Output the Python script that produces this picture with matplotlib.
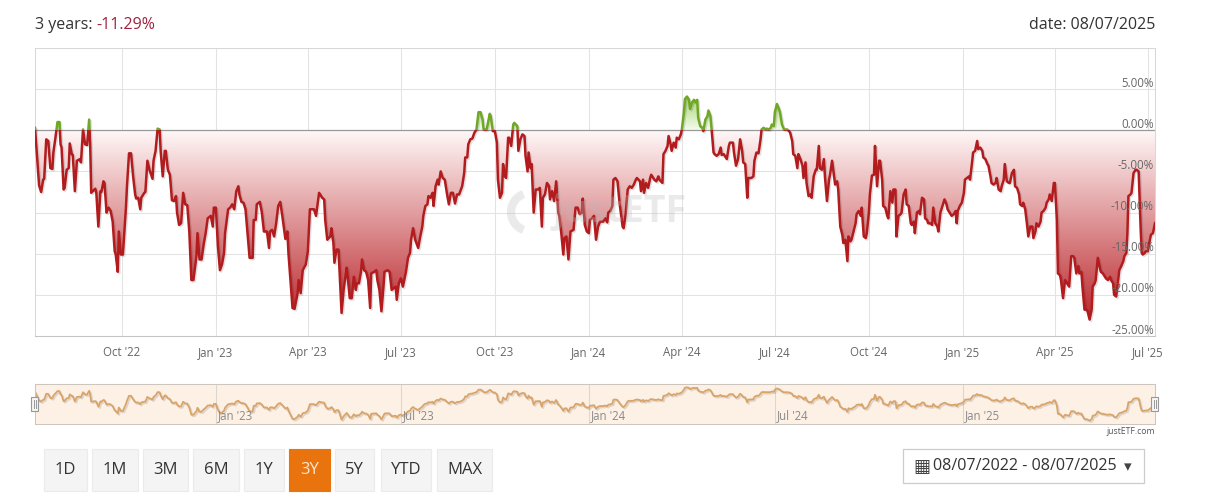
# justETF style drawdown chart (3 years)
import matplotlib as mpl
mpl.use('Agg')
import matplotlib.pyplot as plt
import matplotlib.dates as mdates
import matplotlib.patches as mpatches
import matplotlib.patheffects as pe
import numpy as np
import pandas as pd

start = '2022-07-08'
end = '2025-07-08'

# days after 08/07/2022, drawdown in %
days = [0, 4, 6, 8, 9, 11, 13, 15, 17, 18, 20, 22, 24, 25, 26, 28, 29, 31, 33, 34, 36, 37, 39, 41, 44, 45, 47, 49, 51, 53,
        54, 55, 59, 60, 62, 64, 65, 67, 68, 70, 72, 74, 76, 78, 79, 81, 82, 84, 86, 89, 90, 92, 94, 96, 98, 99, 101, 103, 104, 107,
        108, 110, 112, 115, 116, 118, 120, 122, 123, 125, 127, 128, 130, 132, 134, 136, 138, 139, 141, 143, 145, 147, 149, 151, 153, 155, 158, 159, 161, 163,
        165, 167, 169, 172, 174, 175, 177, 179, 181, 183, 185, 186, 189, 191, 193, 195, 197, 199, 200, 202, 204, 206, 208, 210, 213, 214, 216, 217, 220, 222,
        224, 227, 229, 230, 232, 234, 236, 238, 240, 242, 244, 245, 247, 248, 250, 252, 254, 257, 258, 260, 262, 265, 267, 269, 273, 275, 278,
        281, 283, 284, 286, 289, 290, 292, 293, 295, 297, 299, 300, 302, 305, 306, 308, 310, 312, 314, 315, 317, 319, 320, 322, 324, 326, 328, 329, 332, 334,
        335, 337, 339, 341, 342, 345, 347, 349, 351, 353, 354, 356, 358, 360, 363, 365, 367, 368, 370, 372, 375, 377, 379, 380, 382, 384, 385, 387, 389, 390,
        392, 394, 395, 397, 399, 401, 403, 405, 407, 409, 411, 413, 415, 418, 420, 421, 423, 424, 426, 428, 430, 432, 434, 436, 438, 439, 442, 445, 446, 448,
        450, 452, 453, 455, 457, 458, 460, 461, 463, 464, 466, 468, 469, 472, 473, 475, 477, 479, 480, 482, 483, 485, 486, 488, 490, 492, 494, 496, 497, 499,
        501, 503, 504, 506, 508, 510, 512, 513, 515, 517, 518, 520, 522, 524, 527, 529, 531, 533, 535, 536, 538, 540, 542, 543, 545, 547, 549, 551, 553,
        556, 558, 560, 561, 563, 565, 566, 568, 570, 572, 575, 576, 578, 580, 582, 584, 586, 588, 589, 592, 593, 595, 596, 598, 600, 602, 603, 605, 606, 608,
        610, 611, 614, 615, 617, 619, 620, 622, 623, 625, 627, 628, 630, 632, 633, 635, 636, 638, 640, 641, 643, 645, 646, 648, 649, 651, 653, 654, 656, 658,
        659, 661, 662, 664, 665, 667, 669, 671, 672, 674, 676, 677, 679, 680, 683, 684, 686, 688, 690, 692, 693, 695, 697, 698, 701, 703, 704, 706, 708, 710,
        711, 713, 715, 716, 718, 720, 721, 723, 724, 726, 728, 729, 731, 733, 736, 738, 739, 741, 742, 744, 746, 747, 749, 751, 752, 754, 755, 757, 759, 760,
        762, 764, 765, 767, 768, 770, 772, 773, 775, 777, 778, 780, 782, 783, 785, 786, 788, 790, 791, 793, 795, 796, 798, 799, 801, 803, 804, 806, 808, 809,
        811, 813, 814, 816, 817, 819, 821, 822, 824, 826, 827,
        829, 830, 832, 834, 835, 837, 839, 840, 842, 843, 845, 847, 848, 850, 852, 853, 855, 857, 858, 860, 861, 863, 865, 866, 868, 870, 871, 873, 874, 876,
        878, 879, 881, 883, 884, 886, 888, 890, 892, 893, 896, 897, 899, 901, 902, 903, 905, 907, 909, 910, 912, 914, 915, 917, 918, 920, 922, 923, 925, 927,
        928, 930, 932, 933, 935, 936, 938, 940, 941, 943, 945, 946, 948, 949, 951, 953, 954, 956, 958, 959, 961, 963, 964, 966, 967, 969, 971, 972, 974, 976,
        977, 979, 980, 982, 984, 985, 987, 989, 990, 992, 993, 995, 997, 998, 1000, 1001, 1003, 1004, 1006, 1008, 1009, 1011, 1012, 1014, 1016, 1017, 1019, 1021, 1022, 1024,
        1025, 1027, 1029, 1030, 1032, 1034, 1035, 1037, 1038, 1040, 1042, 1043, 1045, 1047, 1048, 1050, 1052, 1053, 1055, 1056, 1058, 1060, 1061, 1063, 1065, 1066, 1068, 1069, 1070, 1072,
        1073, 1075, 1077, 1078, 1080, 1082, 1083, 1084, 1086, 1087, 1089, 1091, 1092, 1094, 1096]
drawdown = [0.3, -6.7, -7.5, -6.0, -5.9, -1.1, -1.3, -4.6, -4.7, -2.7, -0.9, 1.0, 1.0, -1.7, -2.1, -7.2, -7.0, -4.8, -4.6, -1.6, -2.9, -3.0, -7.4, -3.7, -3.5, -3.9, 0.1, -1.7, -1.8, 1.3,
            -1.7, -7.6, -7.1, -7.6, -11.7, -7.4, -7.5, -6.2, -6.4, -10.0, -9.4, -9.8, -11.1, -14.7, -15.1, -17.2, -12.3, -15.1, -15.1, -9.4, -6.8, -2.8, -2.8, -5.6, -7.8, -8.3, -8.2, -9.6, -8.2, -7.6,
            -7.5, -3.7, -4.8, -5.9, -3.7, -2.5, 0.2, 0.1, -2.6, -5.6, -2.5, -2.5, -4.8, -5.4, -8.5, -8.6, -8.0, -10.0, -11.5, -11.3, -7.6, -9.0, -9.1, -12.3, -18.2, -18.2, -15.3, -12.5, -15.7, -15.7,
            -13.9, -12.5, -10.7, -10.4, -11.7, -9.4, -9.4, -14.1, -17.0, -16.3, -14.9, -12.5, -9.6, -9.4, -9.0, -9.6, -7.4, -6.8, -7.8, -8.7, -8.8, -9.6, -12.5, -15.5, -15.5, -10.9, -10.9, -9.0, -8.7, -10.0,
            -12.3, -12.3, -14.3, -12.3, -12.1, -12.9, -11.3, -9.2, -8.7, -10.4, -12.3, -13.2, -12.3, -14.9, -18.2, -21.6, -21.7, -19.8, -18.2, -19.8, -17.0, -16.3, -14.7, -9.6, -9.6, -10.4, -7.6,
            -8.2, -8.4, -10.9, -13.3, -12.9, -11.9, -13.7, -16.1, -14.5, -14.5, -19.8, -22.2, -19.4, -16.7, -17.8, -20.4, -20.4, -17.8, -19.4, -18.6, -18.6, -17.2, -15.7, -17.0, -17.2, -18.2, -21.6, -17.4, -17.2, -17.0,
            -18.2, -19.4, -22.0, -19.0, -17.2, -17.0, -17.2, -19.4, -19.2, -19.0, -20.6, -18.6, -18.0, -19.0, -17.2, -15.5, -14.9, -13.3, -11.9, -13.3, -14.3, -12.9, -11.7, -10.4, -9.2, -9.0, -8.0, -8.2, -7.6, -9.2,
            -6.8, -6.0, -6.6, -5.0, -5.8, -6.0, -7.6, -9.0, -7.6, -7.6, -8.9, -7.8, -7.8, -6.8, -5.2, -3.3, -3.3, -1.7, -1.1, -1.0, -0.3, 0.1, 2.2, 2.2, 1.3, 0.1, 0.1, 2.0, 1.7, -0.1,
            -0.1, -1.5, -6.0, -8.2, -7.6, -4.1, -5.6, -5.8, -0.9, -0.9, -1.9, 0.7, 0.9, 0.5, -2.5, -1.1, -0.5, -0.7, -3.1, -5.0, -2.7, -4.6, -4.1, -10.0, -7.2, -7.2, -7.0, -11.7, -8.2, -7.8,
            -6.4, -6.8, -8.4, -7.4, -8.6, -6.2, -10.0, -10.4, -12.5, -15.1, -13.1, -12.9, -15.7, -12.3, -12.1, -9.4, -9.4, -10.2, -10.0, -8.3, -11.5, -12.3, -12.5, -10.9, -10.7, -10.4, -13.3, -11.7, -11.1,
            -11.1, -10.7, -11.2, -10.0, -9.8, -9.2, -6.0, -5.8, -6.2, -8.8, -11.7, -11.9, -10.2, -7.2, -6.8, -7.0, -6.6, -6.0, -5.8, -6.2, -7.4, -6.0, -7.6, -6.4, -7.0, -5.8, -5.4, -5.8, -6.0, -6.2,
            -5.6, -6.0, -6.4, -2.9, -2.5, -1.9, -0.7, -1.7, -2.5, -1.5, -2.1, -0.9, -1.1, -0.5, 0.1, 2.2, 3.8, 4.1, 3.7, 2.6, 3.4, 3.7, 3.4, 3.7, 1.5, 0.5, 0.3, -0.1, 1.3, 1.7,
            2.4, 1.7, 0.3, -2.7, -2.9, -3.1, -2.9, -2.1, -3.0, -2.9, -3.3, -3.5, -1.9, -1.5, -1.5, -2.7, -4.3, -3.5, -1.1, -2.5, -3.9, -4.1, -8.2, -5.8, -5.8, -5.6, -3.7, -2.7, -2.8, -1.1,
            0.1, 0.3, 0.1, 0.2, 0.1, 0.3, 0.7, 0.5, 2.2, 3.2, 2.6, 2.2, 0.7, 0.1, 0.1, -0.1, -0.3, -1.3, -2.9, -3.1, -4.6, -2.9, -3.5, -4.3, -5.8, -3.9, -6.4, -8.0, -7.8, -8.2,
            -5.6, -4.8, -4.8, -1.9, -4.6, -4.8, -3.5, -5.6, -8.6, -6.0, -5.4, -3.7, -5.6, -6.6, -6.2, -7.2, -11.7, -12.7, -13.7, -13.3, -15.9, -12.9, -13.5, -13.3, -12.3, -11.3, -10.2, -9.8, -10.4, -9.4,
            -12.9, -13.1, -12.5, -10.0, -7.8, -5.5, -5.4, -1.9, -6.8, -3.7, -3.7,
            -6.0, -9.2, -9.4, -10.4, -10.7, -7.4, -8.8, -7.2, -7.2, -12.9, -10.4, -10.2, -10.0, -7.8, -7.2, -9.0, -9.2, -11.3, -11.5, -11.1, -12.5, -10.0, -9.8, -10.2, -8.2, -8.4, -10.7, -10.9, -11.3, -11.3,
            -11.5, -9.4, -11.3, -11.7, -12.3, -10.0, -9.2, -8.4, -9.0, -9.6, -10.2, -10.4, -10.2, -9.8, -11.3, -9.8, -9.2, -8.8, -7.6, -6.0, -5.8, -5.6, -6.0, -3.9, -2.7, -2.5, -1.3, -2.3, -2.1, -2.5,
            -3.3, -3.5, -4.1, -4.3, -5.6, -6.4, -6.6, -6.4, -5.8, -7.2, -7.4, -6.8, -6.0, -4.1, -6.2, -6.4, -6.4, -5.2, -4.8, -6.8, -7.0, -7.8, -9.0, -9.2, -8.8, -9.6, -11.7, -12.9, -11.7, -11.7,
            -13.1, -12.3, -11.3, -11.7, -11.1, -10.0, -9.8, -9.4, -8.8, -8.4, -7.8, -8.6, -6.4, -6.4, -10.9, -17.4, -17.6, -18.2, -20.4, -18.2, -18.4, -18.8, -19.0, -15.3, -15.3, -15.5, -17.4, -16.5, -17.4, -17.2,
            -19.0, -21.8, -21.8, -22.0, -23.0, -21.8, -19.0, -18.6, -18.2, -15.5, -16.7, -17.2, -17.4, -17.8, -18.0, -18.2, -17.8, -18.2, -18.6, -20.0, -20.2, -18.2, -17.0, -16.5, -15.9, -15.3, -14.9, -12.5, -8.0, -7.8,
            -7.6, -5.2, -4.8, -4.8, -5.0, -12.1, -14.9, -15.1, -14.9, -14.7, -14.7, -13.3, -12.7, -12.5, -11.29]

title_left = '3 years: '
title_value = '-11.29%'
title_right = 'date: 08/07/2025'
y_ticks = [5, 0, -5, -10, -15, -20, -25]
x_ticks = ['2022-10-01', '2023-01-01', '2023-04-01', '2023-07-01', '2023-10-01', '2024-01-01',
           '2024-04-01', '2024-07-01', '2024-10-01', '2025-01-01', '2025-04-01', '2025-07-01']
x_labels = ["Oct '22", "Jan '23", "Apr '23", "Jul '23", "Oct '23", "Jan '24",
            "Apr '24", "Jul '24", "Oct '24", "Jan '25", "Apr '25", "Jul '25"]
nav_ticks = ['2023-01-01', '2023-07-01', '2024-01-01', '2024-07-01', '2025-01-01']
nav_labels = ["Jan '23", "Jul '23", "Jan '24", "Jul '24", "Jan '25"]
buttons = ['1D', '1M', '3M', '6M', '1Y', '3Y', '5Y', 'YTD', 'MAX']
active = '3Y'
date_range = '08/07/2022 - 08/07/2025'

plt.rcParams['font.family'] = ['Open Sans', 'DejaVu Sans']

W, H = 1211, 503


def box(l, t, r, b):
    return [l / W, 1 - b / H, (r - l) / W, (b - t) / H]


v = np.array(drawdown)
x = mdates.date2num(pd.Timestamp(start) + pd.to_timedelta(days, unit='D'))
x0 = mdates.date2num(pd.Timestamp(start))
x1 = mdates.date2num(pd.Timestamp(end))
xt = mdates.date2num(pd.to_datetime(x_ticks))
nt = mdates.date2num(pd.to_datetime(nav_ticks))

fig = plt.figure(figsize=(W / 100, H / 100), dpi=100)

# main chart
ax = fig.add_axes(box(35, 48, 1155, 336))
ax.set_xlim(x0, x1)
ax.set_ylim(-25, 10)
ax.set_axisbelow(True)
ax.set_yticks(y_ticks)
ax.set_xticks(xt)
ax.set_xticklabels(x_labels)
ax.grid(True, color='#e3e3e3', lw=0.75)
ax.tick_params(axis='x', length=0, pad=7, labelsize=8.3, labelcolor='#666666')
ax.tick_params(axis='y', length=0, left=False, labelleft=False)
for s in ax.spines.values():
    s.set_color('#d8d8d8')
    s.set_linewidth(0.75)
ax.spines['bottom'].set_color('#c4c4c4')
ax.axhline(0, color='#9a9a9a', lw=0.9, zorder=2)

# gradient fills
ys = np.linspace(10, -25, 300)
t_red = np.clip(-ys / 25, 0, 1)[:, None]
top_red, bot_red = np.array([1.0, 0.97, 0.97]), np.array([0.71, 0.09, 0.11])
img_red = np.ones((300, 2, 4))
img_red[:, :, :3] = (top_red * (1 - t_red) + bot_red * t_red)[:, None, :]
t_grn = np.clip(ys / 5, 0, 1)[:, None]
bot_grn, top_grn = np.array([0.96, 0.99, 0.93]), np.array([0.6, 0.8, 0.36])
img_grn = np.ones((300, 2, 4))
img_grn[:, :, :3] = (bot_grn * (1 - t_grn) + top_grn * t_grn)[:, None, :]

red_poly = ax.fill_between(x, np.minimum(v, 0), 0, facecolor='none', edgecolor='none')
grn_poly = ax.fill_between(x, np.maximum(v, 0), 0, facecolor='none', edgecolor='none')
for img, poly in [(img_red, red_poly), (img_grn, grn_poly)]:
    im = ax.imshow(img, extent=[x0, x1, -25, 10], aspect='auto', origin='upper',
                   interpolation='bilinear', zorder=1)
    im.set_clip_path(poly.get_paths()[0], ax.transData)

# line, red below zero and green above
shadow = [pe.SimpleLineShadow(offset=(1, -1), shadow_color='black', alpha=0.12), pe.Normal()]
clip_neg = mpatches.Rectangle((x0, -25), x1 - x0, 25, transform=ax.transData)
clip_pos = mpatches.Rectangle((x0, 0), x1 - x0, 10, transform=ax.transData)
ln_red, = ax.plot(x, v, color='#b21c1e', lw=1.8, zorder=3, path_effects=shadow, solid_joinstyle='round')
ln_red.set_clip_path(clip_neg)
ln_grn, = ax.plot(x, v, color='#6ea825', lw=1.8, zorder=3, path_effects=shadow, solid_joinstyle='round')
ln_grn.set_clip_path(clip_pos)

for yv in y_ticks:
    ax.annotate(f'{yv:.2f}%', xy=(1, yv), xycoords=('axes fraction', 'data'), xytext=(-1, 6),
                textcoords='offset pixels', ha='right', va='center', fontsize=8.3, color='#666666', zorder=6)

ax.text(0.522, 0.43, 'justETF', transform=ax.transAxes, ha='center', va='center', fontsize=27,
        fontweight='bold', color='#bbbbbb', alpha=0.3, zorder=5)

# navigator
nav = fig.add_axes(box(35, 384, 1155, 424))
nav.set_facecolor('#fdf1e6')
nav.plot(x, v, color='#d8a46a', lw=1.3, path_effects=shadow)
nav.set_xlim(x0, x1)
nav.set_ylim(v.min() - 2.7, v.max() + 2.7)
nav.set_xticks(nt)
nav.set_yticks([])
nav.grid(True, axis='x', color='#dcd6d0', lw=0.75)
nav.tick_params(length=0, labelbottom=False)
for s in nav.spines.values():
    s.set_color('#cdc6bf')
    s.set_linewidth(0.75)
for xv, lab in zip(nt, nav_labels):
    nav.annotate(lab, xy=(xv, 0), xycoords=('data', 'axes fraction'), xytext=(2, 2),
                 textcoords='offset pixels', ha='left', va='bottom', fontsize=8.3, color='#8a8a8a')

# overlay in pixel coordinates for page elements
ov = fig.add_axes([0, 0, 1, 1])
ov.set_xlim(0, W)
ov.set_ylim(H, 0)
ov.axis('off')
ov.patch.set_visible(False)

t1 = ov.text(35, 29, title_left, ha='left', va='baseline', fontsize=11.5, color='#333333')
ov.annotate(title_value, xy=(1, 0), xycoords=t1, ha='left', va='bottom', fontsize=11.5, color='#a02340')
ov.text(1155, 29, title_right, ha='right', va='baseline', fontsize=11.5, color='#333333')

# logo swoosh of the watermark
ov.add_patch(mpatches.Arc((530, 212), 38, 38, theta1=110, theta2=250, lw=6, color='#bbbbbb', alpha=0.3))

for hx in (31, 1151):
    ov.add_patch(mpatches.Rectangle((hx, 397), 7, 14, facecolor='#f6f6f6', edgecolor='#999999', lw=0.8))
    ov.plot([hx + 2.5, hx + 2.5], [400, 408], color='#999999', lw=0.7)
    ov.plot([hx + 4.5, hx + 4.5], [400, 408], color='#999999', lw=0.7)

ov.text(1155, 431, 'justETF.com', ha='right', va='center', fontsize=6.2, color='#555555')

btn_x = [(44, 87), (92, 138), (143, 188), (193, 239), (244, 284), (289, 330), (335, 374), (381, 431), (437, 492)]
for lab, (bl, br) in zip(buttons, btn_x):
    on = lab == active
    ov.add_patch(mpatches.Rectangle((bl, 449), br - bl, 42, facecolor='#e9730c' if on else '#f4f4f4',
                                    edgecolor='#e9730c' if on else '#ebebeb', lw=0.8))
    ov.text((bl + br) / 2, 470, lab, ha='center', va='center', fontsize=12,
            color='#fde6d2' if on else '#333333')

ov.add_patch(mpatches.Rectangle((903, 449), 241, 34, facecolor='white', edgecolor='#cccccc', lw=0.9))
ov.text(922, 467, '\u25A6', ha='center', va='center', fontsize=13, color='#444444',
        family=['DejaVu Sans'])
ov.text(933, 466, date_range, ha='left', va='center', fontsize=11.6, color='#333333')
ov.text(1128, 467, '\u25BE', ha='center', va='center', fontsize=11, color='#444444',
        family=['DejaVu Sans'])

fig.savefig('out.png', dpi=100)
plt.close('all')
